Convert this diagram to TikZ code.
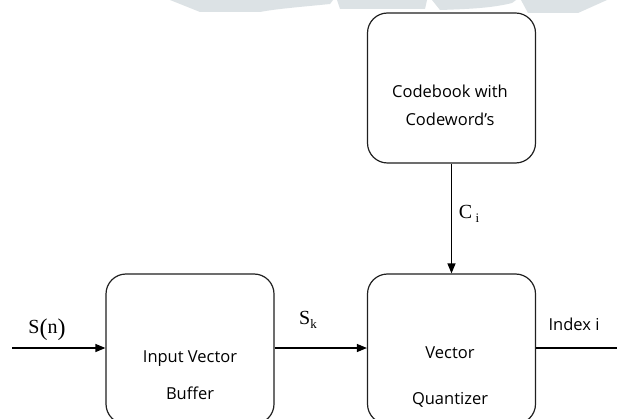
\documentclass[tikz,border=0pt]{standalone}
\usepackage{fontspec}
\setmainfont{Open Sans}
\newfontfamily\serifl{Liberation Serif}
\usetikzlibrary{arrows.meta}
\definecolor{wm}{HTML}{DCE2E5}
\definecolor{edge}{HTML}{202020}
\newcommand{\subl}[1]{\raisebox{-4pt}{\fontsize{13}{14}\selectfont #1}}
\newcommand{\bigp}[1]{\raisebox{-2pt}{\fontsize{24}{26}\selectfont #1}}
\tikzset{
  block/.style={draw=edge, line width=1.2pt, rounded corners=20pt, minimum width=168pt, minimum height=150pt, inner sep=0pt},
  txt/.style={anchor=base, inner sep=0pt, font=\fontsize{16.5}{19}\selectfont},
  lab/.style={anchor=base, inner sep=0pt, font=\serifl\fontsize{20}{22}\selectfont},
  conn/.style={draw=black, line width=1.2pt},
  arr/.style={conn, -{Triangle[length=10pt,width=8pt]}}
}
\begin{document}
\begin{tikzpicture}[x=1pt,y=-1pt]
\useasboundingbox (0,0) rectangle (617,419);
\clip (0,0) rectangle (617,419);
\fill[white] (0,0) rectangle (617,419);
% watermark fragments
\fill[wm] (170,0) -- (333,0) -- (330,4) .. controls (300,7) and (275,9) .. (260,12) -- (200,12) -- cycle;
\fill[wm] (337,0) -- (427,0) -- (425,9) -- (340,9) -- cycle;
\fill[wm] (432,0) -- (516,0) -- (512,3) .. controls (492,8) and (470,9) .. (440,10) -- cycle;
\fill[wm] (521,0) -- (607,0) -- (578,13) -- (528,13) -- cycle;
% blocks
\node[block] (cb) at (451.5,88) {};
\node[block] (ivb) at (190,349) {};
\node[block] (vq) at (451.5,349) {};
% texts
\node[txt] (t1) at (450,98) {Codebook with};
\node[txt] (t2) at (450,126) {Codeword’s};
\node[txt] (t3) at (190,362) {Input Vector};
\node[txt] (t4) at (190,399) {Buffer};
\node[txt] (t5) at (450,358) {Vector};
\node[txt] (t6) at (450,404) {Quantizer};
\node[txt] (t7) at (574,330) {Index i};
% labels
\node[lab] (sn) at (47,333) {S\bigp{(}n\bigp{)}};
\node[lab] (sk) at (308,324) {S\subl{k}};
\node[lab] (ci) at (469,219) {C\,\subl{i}};
% connectors
\coordinate (in) at (12,348);
\coordinate (out) at (617,348);
\draw[arr] (in) -- (ivb.west |- in);
\draw[arr] (ivb.east |- in) -- (vq.west |- in);
\draw[arr] (cb.south) -- (vq.north);
\draw[conn] (vq.east |- out) -- (out);
\end{tikzpicture}
\end{document}
